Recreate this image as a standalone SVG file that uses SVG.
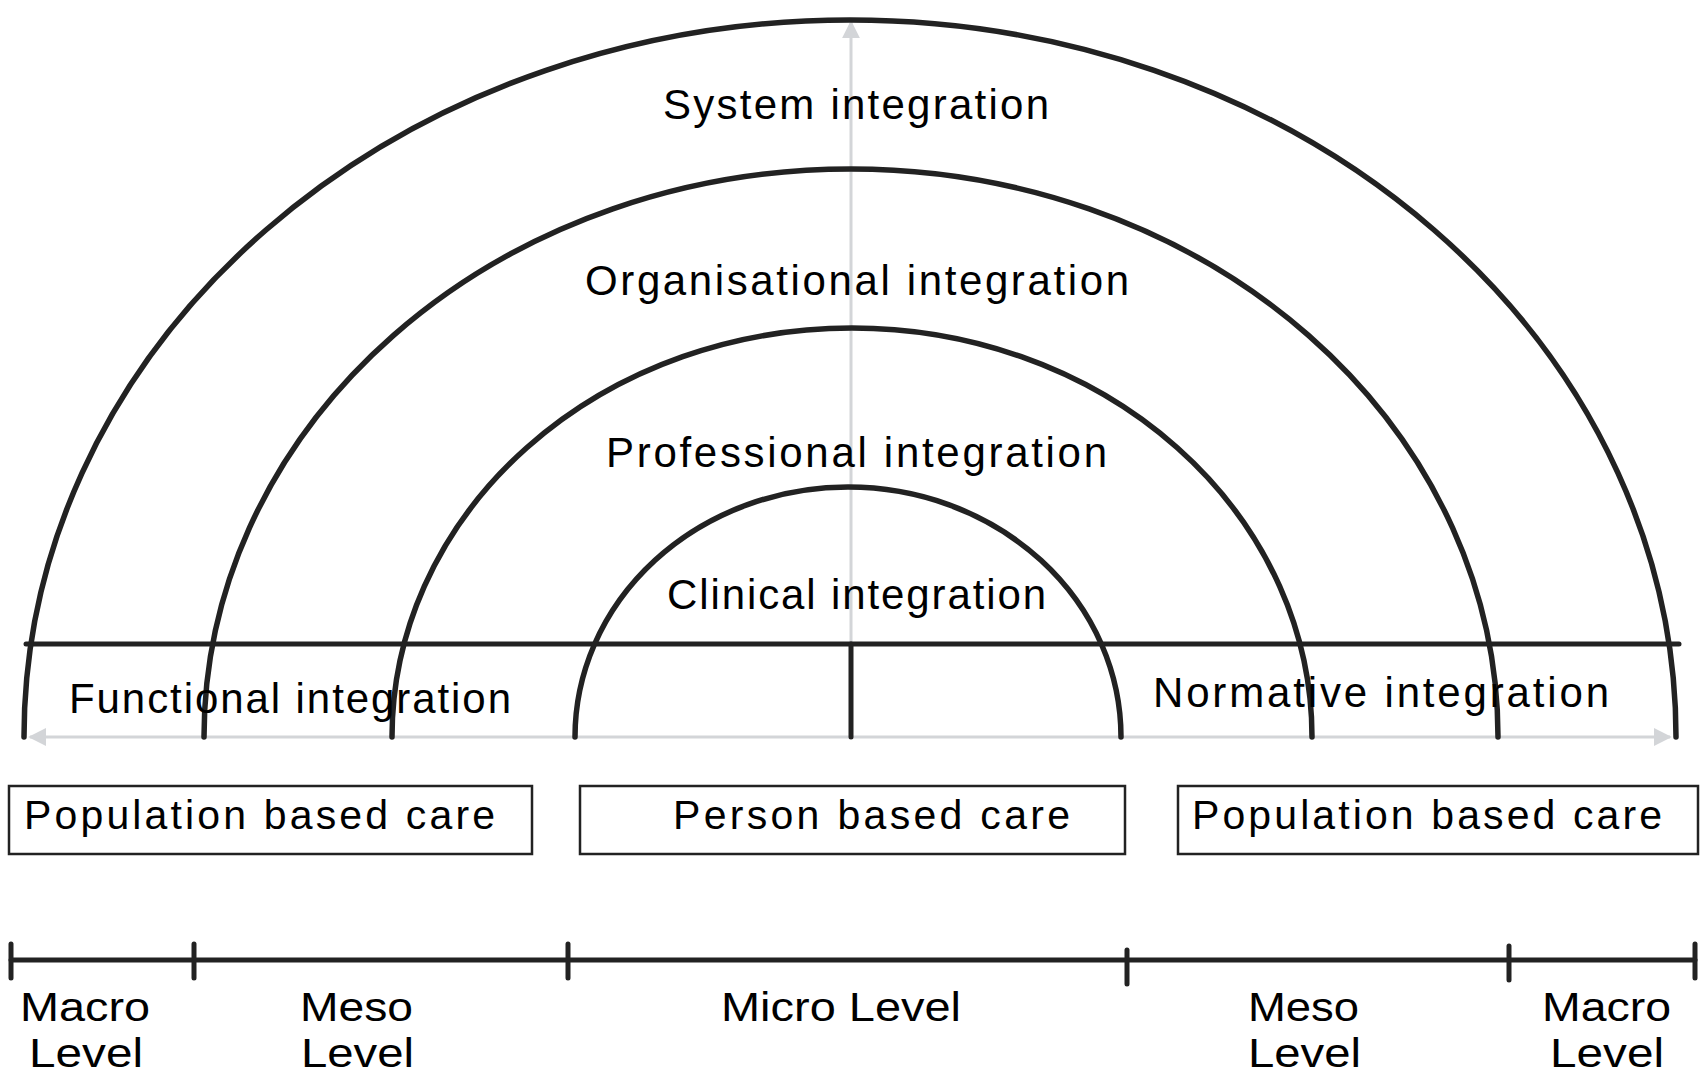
<svg xmlns="http://www.w3.org/2000/svg" width="1705" height="1077" viewBox="0 0 1705 1077">
<style>
.arc{fill:none;stroke:#222;stroke-width:5.5;stroke-linecap:round}
.blk{fill:none;stroke:#222;stroke-width:5;stroke-linecap:round}
.gray{fill:none;stroke:#d3d5d8;stroke-width:3}
.box{fill:#fff;stroke:#222;stroke-width:2.5}
.t{font-family:"Liberation Sans",Arial,sans-serif;fill:#000;font-size:42px}
.tb{font-family:"Liberation Sans",Arial,sans-serif;fill:#000;font-size:41px}
.tl{font-family:"Liberation Sans",Arial,sans-serif;fill:#000;font-size:41px}
</style>
<defs>
<marker id="ah" viewBox="0 0 10 10" refX="9" refY="5" markerWidth="6" markerHeight="6" orient="auto-start-reverse" markerUnits="strokeWidth">
<path d="M0,0 L10,5 L0,10 z" fill="#d3d5d8"/>
</marker>
</defs>
<rect width="1705" height="1077" fill="#fff"/>
<g id="connectors">
<line class="gray" x1="30" y1="737" x2="1670" y2="737" marker-start="url(#ah)" marker-end="url(#ah)"/>
<line class="gray" x1="851" y1="737" x2="851" y2="22" marker-end="url(#ah)"/>
<line class="blk" x1="26" y1="644" x2="1679" y2="644"/>
<line class="blk" x1="851" y1="644" x2="851" y2="737"/>
</g>
<g id="system">
<path class="arc" d="M24 737 A826 717 0 0 1 1676 737"/>
<text class="t" x="663" y="119" textLength="386" lengthAdjust="spacing">System integration</text>
</g>
<g id="organisational">
<path class="arc" d="M204 737 A647 568 0 0 1 1498 737"/>
<text class="t" x="585" y="295" textLength="544" lengthAdjust="spacing">Organisational  integration</text>
</g>
<g id="professional">
<path class="arc" d="M392 737 A460 409 0 0 1 1312 737"/>
<text class="t" x="606" y="467" textLength="501" lengthAdjust="spacing">Professional  integration</text>
</g>
<g id="clinical">
<path class="arc" d="M575 737 A273 250 0 0 1 1121 737"/>
<text class="t" x="667" y="609" textLength="379" lengthAdjust="spacing">Clinical integration</text>
</g>
<g id="functional">
<text class="t" x="69" y="713" textLength="442" lengthAdjust="spacing">Functional integration</text>
</g>
<g id="normative">
<text class="t" x="1153" y="707" textLength="456" lengthAdjust="spacing">Normative  integration</text>
</g>
<g id="population-left">
<rect class="box" x="9" y="786" width="523" height="68"/>
<text class="tb" x="24" y="829" textLength="471" lengthAdjust="spacing">Population  based care</text>
</g>
<g id="person">
<rect class="box" x="580" y="786" width="545" height="68"/>
<text class="tb" x="673" y="829" textLength="397" lengthAdjust="spacing">Person based care</text>
</g>
<g id="population-right">
<rect class="box" x="1178" y="786" width="520" height="68"/>
<text class="tb" x="1192" y="829" textLength="470" lengthAdjust="spacing">Population  based care</text>
</g>
<g id="scale">
<line class="blk" x1="11" y1="960" x2="1695" y2="960"/>
<line class="blk" x1="11" y1="944" x2="11" y2="978"/>
<line class="blk" x1="194" y1="944" x2="194" y2="978"/>
<line class="blk" x1="568" y1="944" x2="568" y2="978"/>
<line class="blk" x1="1127" y1="950" x2="1127" y2="984"/>
<line class="blk" x1="1509" y1="946" x2="1509" y2="980"/>
<line class="blk" x1="1695" y1="944" x2="1695" y2="978"/>
</g>
<g id="levels">
<text class="tl" x="20" y="1021" textLength="130" lengthAdjust="spacingAndGlyphs">Macro</text>
<text class="tl" x="29" y="1067" textLength="114" lengthAdjust="spacingAndGlyphs">Level</text>
<text class="tl" x="300" y="1021" textLength="113" lengthAdjust="spacingAndGlyphs">Meso</text>
<text class="tl" x="301" y="1067" textLength="113" lengthAdjust="spacingAndGlyphs">Level</text>
<text class="tl" x="721" y="1021" textLength="240" lengthAdjust="spacingAndGlyphs">Micro Level</text>
<text class="tl" x="1248" y="1021" textLength="111" lengthAdjust="spacingAndGlyphs">Meso</text>
<text class="tl" x="1248" y="1067" textLength="113" lengthAdjust="spacingAndGlyphs">Level</text>
<text class="tl" x="1542" y="1021" textLength="129" lengthAdjust="spacingAndGlyphs">Macro</text>
<text class="tl" x="1550" y="1067" textLength="114" lengthAdjust="spacingAndGlyphs">Level</text>
</g>
</svg>
